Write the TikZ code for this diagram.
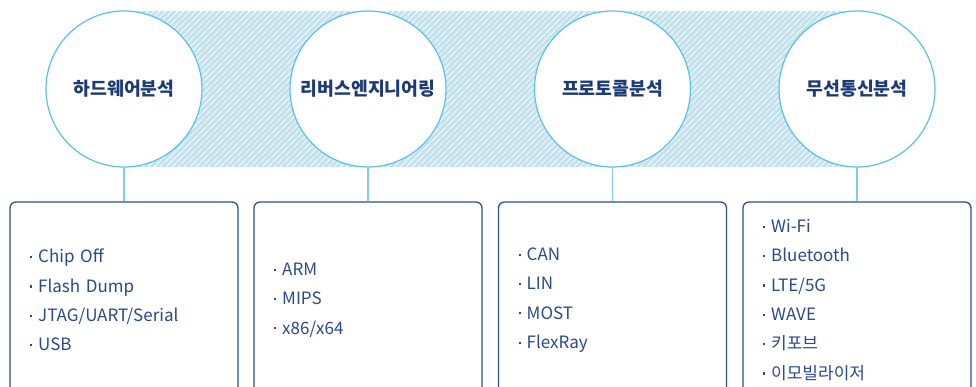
\documentclass[tikz,border=0pt]{standalone}
\usepackage{fontspec}
\setmainfont{Noto Sans CJK KR}
\definecolor{bandblue}{HTML}{BEE3F5}
\definecolor{ringblue}{HTML}{5BC0E8}
\definecolor{linkblue}{HTML}{7FCCEB}
\definecolor{boxnavy}{HTML}{2D4F93}
\definecolor{textnavy}{HTML}{2A4A8A}
\definecolor{titlenavy}{HTML}{1B3A78}
\newcommand\bulletdot{\raisebox{0.27em}{\rule{2.2pt}{2.2pt}}\hspace{6pt}}
\tikzset{
  topic/.style={circle, draw=ringblue, line width=1.2pt, fill=white, minimum size=156pt, inner sep=0pt,
    font=\fontsize{18.3}{20}\selectfont\bfseries, text=titlenavy},
  itembox/.style={draw=boxnavy, line width=1.3pt, rounded corners=6pt, fill=white,
    minimum width=228pt, minimum height=196pt, text width=188pt, align=left, inner sep=0pt,
    font=\fontsize{17}{29.3}\selectfont, text=textnavy},
  link/.style={draw=linkblue, line width=1.5pt}
}
\begin{document}
\begin{tikzpicture}[x=1pt,y=-1pt]
\useasboundingbox (0,0) rectangle (976,387);
% hatched band
\fill[bandblue] (124,11) rectangle (857,167);
\begin{scope}
  \clip (124,11) rectangle (857,167);
  \foreach \i in {-30,...,125} {
    \draw[white, line width=0.9pt] (124+\i*6,167) -- ++(156,-156);
  }
\end{scope}
% circles
\node[topic] (c1) at (124,89) {하드웨어분석};
\node[topic] (c2) at (368,89) {리버스엔지니어링};
\node[topic] (c3) at (612.5,89) {프로토콜분석};
\node[topic] (c4) at (857,89) {무선통신분석};
% boxes
\node[itembox] (b1) at (124,300) {\bulletdot Chip Off\\\bulletdot Flash Dump\\\bulletdot JTAG/UART/Serial\\\bulletdot USB};
\node[itembox] (b2) at (368,300) {\bulletdot ARM\\\bulletdot MIPS\\\bulletdot x86/x64};
\node[itembox] (b3) at (612.5,300) {\bulletdot CAN\\\bulletdot LIN\\\bulletdot MOST\\\bulletdot FlexRay};
\node[itembox] (b4) at (857,300) {\bulletdot Wi-Fi\\\bulletdot Bluetooth\\\bulletdot LTE/5G\\\bulletdot WAVE\\\bulletdot 키포브\\\bulletdot 이모빌라이저};
% connectors
\draw[link] (c1.south) -- (b1.north);
\draw[link] (c2.south) -- (b2.north);
\draw[link] (c3.south) -- (b3.north);
\draw[link] (c4.south) -- (b4.north);
\end{tikzpicture}
\end{document}
